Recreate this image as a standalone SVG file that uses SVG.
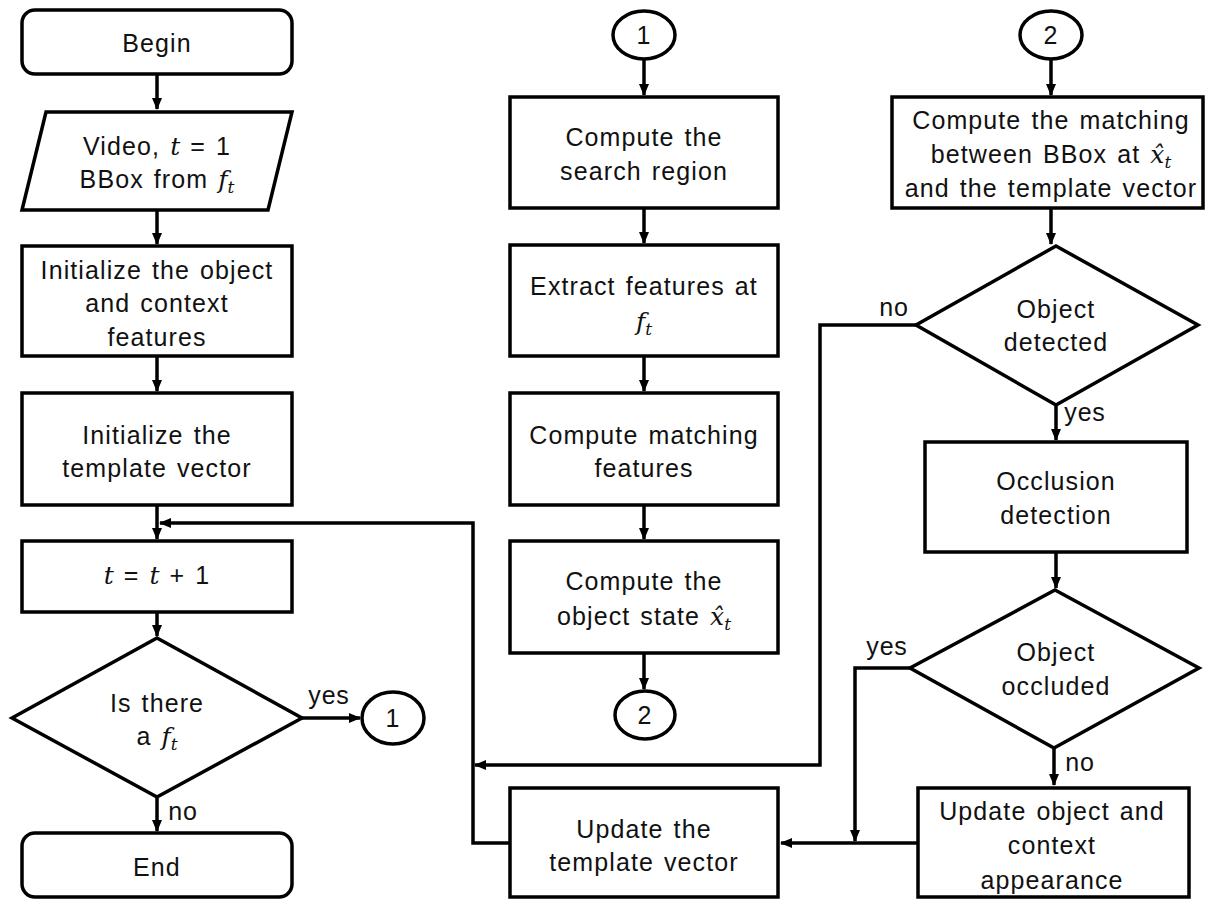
<svg xmlns="http://www.w3.org/2000/svg" width="1206" height="899" viewBox="0 0 1206 899">
<style>
.s{fill:#fff;stroke:#000;stroke-width:3.5}
.t{font-family:"Liberation Sans",Arial,sans-serif;font-size:25px;letter-spacing:1.1px;word-spacing:2px;fill:#111;text-anchor:middle}
.l{font-family:"Liberation Sans",Arial,sans-serif;font-size:25px;letter-spacing:0.8px;fill:#111;text-anchor:middle}
.m{font-family:"DejaVu Serif","Liberation Serif",serif;font-style:italic;letter-spacing:0}
.c{fill:none;stroke:#000;stroke-width:3.5}
</style>
<defs>
<marker id="a" markerWidth="12" markerHeight="10" refX="11" refY="5" orient="auto" markerUnits="userSpaceOnUse">
<path d="M0,0 L12,5 L0,10 Z" fill="#000"/>
</marker>
</defs>
<g id="connectors">
<path class="c" d="M157,74 V109" marker-end="url(#a)"/>
<path class="c" d="M157,210 V244" marker-end="url(#a)"/>
<path class="c" d="M157,356 V391" marker-end="url(#a)"/>
<path class="c" d="M157,505 V539" marker-end="url(#a)"/>
<path class="c" d="M157,612 V636" marker-end="url(#a)"/>
<path class="c" d="M302,718 H360" marker-end="url(#a)"/>
<path class="c" d="M157,797 V831" marker-end="url(#a)"/>
<path class="c" d="M644,60 V95" marker-end="url(#a)"/>
<path class="c" d="M644,208 V243" marker-end="url(#a)"/>
<path class="c" d="M644,356 V391" marker-end="url(#a)"/>
<path class="c" d="M644,505 V539" marker-end="url(#a)"/>
<path class="c" d="M644,653 V689" marker-end="url(#a)"/>
<path class="c" d="M1051,60 V95" marker-end="url(#a)"/>
<path class="c" d="M1051,208 V244" marker-end="url(#a)"/>
<path class="c" d="M1056,405 V440" marker-end="url(#a)"/>
<path class="c" d="M1056,552 V588" marker-end="url(#a)"/>
<path class="c" d="M1054,748 V785" marker-end="url(#a)"/>
<path class="c" d="M916,325 H820 V765 H475" marker-end="url(#a)"/>
<path class="c" d="M910,668 H855 V841" marker-end="url(#a)"/>
<path class="c" d="M918,843 H781" marker-end="url(#a)"/>
<path class="c" d="M510,843 H473 V523 H160" marker-end="url(#a)"/>
<text class="l" x="329" y="704">yes</text>
<text class="l" x="183" y="820">no</text>
<text class="l" x="894" y="316">no</text>
<text class="l" x="1085" y="421">yes</text>
<text class="l" x="887" y="655">yes</text>
<text class="l" x="1080" y="771">no</text>
</g>
<g id="begin">
<rect class="s" x="22" y="10" width="270" height="64" rx="13"/>
<text class="t" x="157" y="52">Begin</text>
</g>
<g id="input">
<path class="s" d="M46,112 H292 L268,210 H22 Z"/>
<text class="t" x="157" y="155">Video, <tspan class="m">t</tspan> = 1</text>
<text class="t" x="157" y="188">BBox from <tspan class="m">f</tspan><tspan class="m" font-size="17" dy="5">t</tspan></text>
</g>
<g id="init-features">
<rect class="s" x="22" y="246" width="270" height="110"/>
<text class="t" x="157" y="279">Initialize the object</text>
<text class="t" x="157" y="312">and context</text>
<text class="t" x="157" y="346">features</text>
</g>
<g id="init-template">
<rect class="s" x="22" y="393" width="270" height="112"/>
<text class="t" x="157" y="444">Initialize the</text>
<text class="t" x="157" y="477">template vector</text>
</g>
<g id="increment">
<rect class="s" x="22" y="541" width="270" height="71"/>
<text class="t" x="157" y="584"><tspan class="m">t</tspan> = <tspan class="m">t</tspan> + 1</text>
</g>
<g id="is-there">
<path class="s" d="M157,638 L302,718 L157,797 L12,718 Z"/>
<text class="t" x="157" y="712">Is there</text>
<text class="t" x="157" y="745">a <tspan class="m">f</tspan><tspan class="m" font-size="17" dy="5">t</tspan></text>
</g>
<g id="conn1-out">
<ellipse class="s" cx="393" cy="718" rx="31" ry="26"/>
<text class="t" x="393" y="727">1</text>
</g>
<g id="end">
<rect class="s" x="22" y="833" width="270" height="64" rx="13"/>
<text class="t" x="157" y="876">End</text>
</g>
<g id="conn1-in">
<ellipse class="s" cx="644" cy="35" rx="31" ry="24"/>
<text class="t" x="644" y="44">1</text>
</g>
<g id="search-region">
<rect class="s" x="510" y="97" width="268" height="111"/>
<text class="t" x="644" y="146">Compute the</text>
<text class="t" x="644" y="180">search region</text>
</g>
<g id="extract">
<rect class="s" x="510" y="245" width="268" height="111"/>
<text class="t" x="644" y="295">Extract features at</text>
<text class="t" x="644" y="330"><tspan class="m">f</tspan><tspan class="m" font-size="17" dy="5">t</tspan></text>
</g>
<g id="matching">
<rect class="s" x="510" y="393" width="268" height="112"/>
<text class="t" x="644" y="444">Compute matching</text>
<text class="t" x="644" y="477">features</text>
</g>
<g id="state">
<rect class="s" x="510" y="541" width="268" height="112"/>
<text class="t" x="644" y="590">Compute the</text>
<text class="t" x="644" y="625">object state <tspan class="m">x̂</tspan><tspan class="m" font-size="17" dy="5">t</tspan></text>
</g>
<g id="conn2-out">
<ellipse class="s" cx="645" cy="715" rx="30" ry="24"/>
<text class="t" x="645" y="724">2</text>
</g>
<g id="conn2-in">
<ellipse class="s" cx="1051" cy="35" rx="31" ry="24"/>
<text class="t" x="1051" y="44">2</text>
</g>
<g id="bbox-matching">
<rect class="s" x="892" y="97" width="311" height="111"/>
<text class="t" x="1051" y="129">Compute the matching</text>
<text class="t" x="1051" y="163">between BBox at <tspan class="m">x̂</tspan><tspan class="m" font-size="17" dy="5">t</tspan></text>
<text class="t" x="1051" y="197">and the template vector</text>
</g>
<g id="detected">
<path class="s" d="M1056,246 L1198,325 L1056,405 L916,325 Z"/>
<text class="t" x="1056" y="318">Object</text>
<text class="t" x="1056" y="351">detected</text>
</g>
<g id="occlusion">
<rect class="s" x="925" y="442" width="262" height="110"/>
<text class="t" x="1056" y="490">Occlusion</text>
<text class="t" x="1056" y="524">detection</text>
</g>
<g id="occluded">
<path class="s" d="M1055,590 L1199,668 L1054,748 L910,668 Z"/>
<text class="t" x="1056" y="661">Object</text>
<text class="t" x="1056" y="695">occluded</text>
</g>
<g id="update-appearance">
<rect class="s" x="918" y="788" width="271" height="109"/>
<text class="t" x="1052" y="820">Update object and</text>
<text class="t" x="1052" y="854">context</text>
<text class="t" x="1052" y="889">appearance</text>
</g>
<g id="update-template">
<rect class="s" x="510" y="788" width="268" height="109"/>
<text class="t" x="644" y="838">Update the</text>
<text class="t" x="644" y="871">template vector</text>
</g>
</svg>
